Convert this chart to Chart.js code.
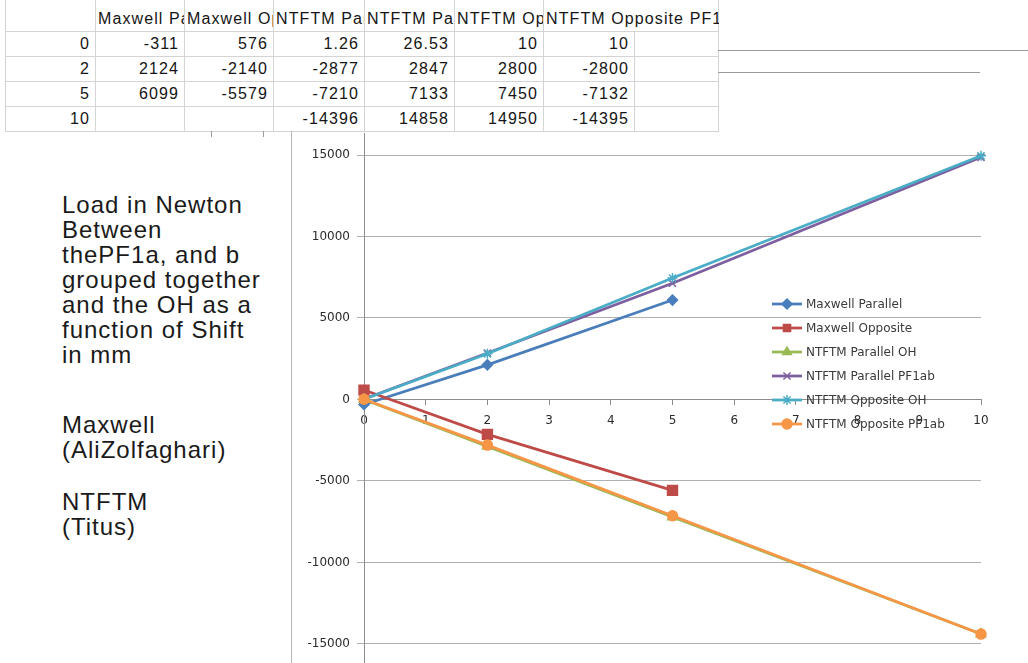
<!DOCTYPE html>
<html>
<head>
<meta charset="utf-8">
<script src="https://cdn.jsdelivr.net/npm/chart.js@4.4.1/dist/chart.umd.min.js"></script>
<style>
  html, body { margin: 0; padding: 0; background: #fff; }
  #page { position: relative; width: 1028px; height: 663px; overflow: hidden; }
  #sheet { position: absolute; left: 5px; top: 0; width: 714px; height: 132px; overflow: hidden; }
  #sheet table { width: 713px; border-collapse: collapse; table-layout: fixed; font-family: "Liberation Sans", Arial, sans-serif; font-size: 16px; letter-spacing: 1.1px; color: #151515; }
  #sheet td { border: 1px solid #d4d4d4; padding: 0 5px 0 2px; text-align: right; white-space: nowrap; overflow: hidden; }
  #sheet tr { height: 25px; }
  #sheet tr.head { height: 31px; }
  #sheet tr.head td { text-align: left; border-top: none; padding: 0 0 3px 2px; vertical-align: bottom; }
  #sheet tr.head td.spill { overflow: visible; border-right-style: hidden; }
  .note { position: absolute; left: 62px; font-family: "Liberation Sans", Arial, sans-serif; font-size: 24px; line-height: 25px; letter-spacing: 1px; color: #1a1a1a; }
  .rule { position: absolute; background: #9a9a9a; }
  #chartBox { position: absolute; left: 292px; top: 133px; width: 736px; height: 530px; }
</style>
</head>
<body>
<div id="page">
  <div id="sheet"><table id="grid"></table></div>

  <div class="note" style="top:192px">Load in Newton<br>Between<br>thePF1a, and b<br>grouped together<br>and the OH as a<br>function of Shift<br>in mm</div>
  <div class="note" style="top:412px">Maxwell<br>(AliZolfaghari)</div>
  <div class="note" style="top:489px">NTFTM<br>(Titus)</div>

  <div class="rule" style="left:718px; top:50px; width:310px; height:1px;"></div>
  <div class="rule" style="left:718px; top:72px; width:262px; height:1px;"></div>
  <div class="rule" style="left:291px; top:131px; width:1px; height:532px; background:#b5b5b5;"></div>
  <div class="rule" style="left:211px; top:131px; width:1px; height:6px;"></div>
  <div class="rule" style="left:263px; top:131px; width:1px; height:6px;"></div>

  <div id="chartBox"><canvas id="loadChart"></canvas></div>
</div>

<script>
// shift in mm (table rows and x positions)
const shiftMm = [0, 2, 5, 10];

const maxwellParallel = [-311, 2124, 6099, null];
const maxwellOpposite = [576, -2140, -5579, null];
const ntftmParallelOH = [1.26, -2877, -7210, -14396];
const ntftmParallelPF1ab = [26.53, 2847, 7133, 14858];
const ntftmOppositeOH = [10, 2800, 7450, 14950];
const ntftmOppositePF1ab = [10, -2800, -7132, -14395];

const seriesNames = [
    "Maxwell Parallel",
    "Maxwell Opposite",
    "NTFTM Parallel OH",
    "NTFTM Parallel PF1ab",
    "NTFTM Opposite OH",
    "NTFTM Opposite PF1ab",
];
const seriesValues = [
    maxwellParallel,
    maxwellOpposite,
    ntftmParallelOH,
    ntftmParallelPF1ab,
    ntftmOppositeOH,
    ntftmOppositePF1ab,
];
const seriesColors = ["#4a7ebb", "#be4b48", "#98b954", "#7d5fa0", "#4bacc6", "#f79646"];
const seriesMarkers = ["rectRot", "rect", "triangle", "crossRot", "star", "circle"];
const markerSizes = [5, 7, 5.5, 5, 5, 5];

const xTicks = [0, 1, 2, 3, 4, 5, 6, 7, 8, 9, 10];
const yTicks = [-15000, -10000, -5000, 0, 5000, 10000, 15000];

// spreadsheet above the chart
const colWidths = [90, 89, 89, 91, 90, 89, 91, 84];
const grid = document.getElementById("grid");
let html = "<colgroup>" + colWidths.map((w) => `<col style="width:${w}px">`).join("") + "</colgroup>";

html += '<tr class="head"><td></td>';
seriesNames.forEach((name, i) => {
    html += `<td${i === seriesNames.length - 1 ? ' class="spill"' : ""}>${name}</td>`;
});
html += "<td></td></tr>";

shiftMm.forEach((s, r) => {
    html += `<tr><td>${s}</td>`;
    seriesValues.forEach((vals) => {
        html += `<td>${vals[r] === null ? "" : vals[r]}</td>`;
    });
    html += "<td></td></tr>";
});
grid.innerHTML = html;

const axisFont = { family: "'DejaVu Sans', sans-serif", size: 12 };

const insideLegend = {
    id: "insideLegend",
    afterDatasetsDraw(chart) {
        const ctx = chart.ctx;
        ctx.save();
        ctx.font = "12px 'DejaVu Sans', sans-serif";
        ctx.textBaseline = "middle";
        chart.data.datasets.forEach((ds, i) => {
            const x = 480;
            const y = 171 + i * 24;
            ctx.strokeStyle = ds.borderColor;
            ctx.fillStyle = ds.borderColor;
            ctx.lineWidth = 2.75;
            ctx.beginPath();
            ctx.moveTo(x, y);
            ctx.lineTo(x + 30, y);
            ctx.stroke();
            ctx.lineWidth = 1.5;
            Chart.helpers.drawPoint(
                ctx,
                { pointStyle: ds.pointStyle, radius: Math.min(ds.pointRadius, 5), borderWidth: 1.5, rotation: 0 },
                x + 15,
                y
            );
            ctx.fillStyle = "#3a3a3a";
            ctx.fillText(ds.label, x + 34, y + 1);
        });
        ctx.restore();
    },
};

new Chart(document.getElementById("loadChart"), {
    type: "line",

    data: {
        datasets: seriesNames.map((name, i) => ({
            label: name,
            data: shiftMm
                .map((s, r) => ({ x: s, y: seriesValues[i][r] }))
                .filter((p) => p.y !== null),
            borderColor: seriesColors[i],
            backgroundColor: seriesColors[i],
            pointBackgroundColor: seriesColors[i],
            pointBorderColor: seriesColors[i],
            pointStyle: seriesMarkers[i],
            pointRadius: markerSizes[i],
            pointBorderWidth: 1.5,
            borderWidth: 2.75,
            tension: 0,
            clip: false,
            order: seriesNames.length - i,
        })),
    },

    options: {
        responsive: true,
        maintainAspectRatio: false,
        animation: false,
        events: [],

        layout: {
            autoPadding: false,
            padding: { top: 0, right: 47, bottom: 0, left: 0 },
        },

        plugins: {
            legend: { display: false },
            tooltip: { enabled: false },
        },

        scales: {
            x: {
                type: "linear",
                min: 0,
                max: 10,
                position: { y: 0 },
                afterBuildTicks: (axis) => {
                    axis.ticks = xTicks.map((v) => ({ value: v }));
                },
                afterFit: (axis) => {
                    axis.height = 0;
                    axis.paddingLeft = 0;
                    axis.paddingRight = 0;
                },
                grid: {
                    drawOnChartArea: false,
                    tickLength: 5,
                    color: "#8c8c8c",
                },
                border: { color: "#8c8c8c" },
                ticks: {
                    color: "#2b2b2b",
                    font: axisFont,
                    padding: 9,
                    maxRotation: 0,
                    callback: (v) => String(v),
                },
            },

            y: {
                min: -16170,
                max: 16350,
                afterBuildTicks: (axis) => {
                    axis.ticks = yTicks.map((v) => ({ value: v }));
                },
                afterFit: (axis) => {
                    axis.width = 72;
                    axis.paddingTop = 0;
                    axis.paddingBottom = 0;
                },
                grid: {
                    color: "#b0b0b0",
                    tickLength: 7,
                },
                border: { color: "#8c8c8c" },
                ticks: {
                    color: "#2b2b2b",
                    font: axisFont,
                    padding: 7,
                    callback: (v) => String(v),
                },
            },
        },
    },

    plugins: [insideLegend],
});
</script>
</body>
</html>
